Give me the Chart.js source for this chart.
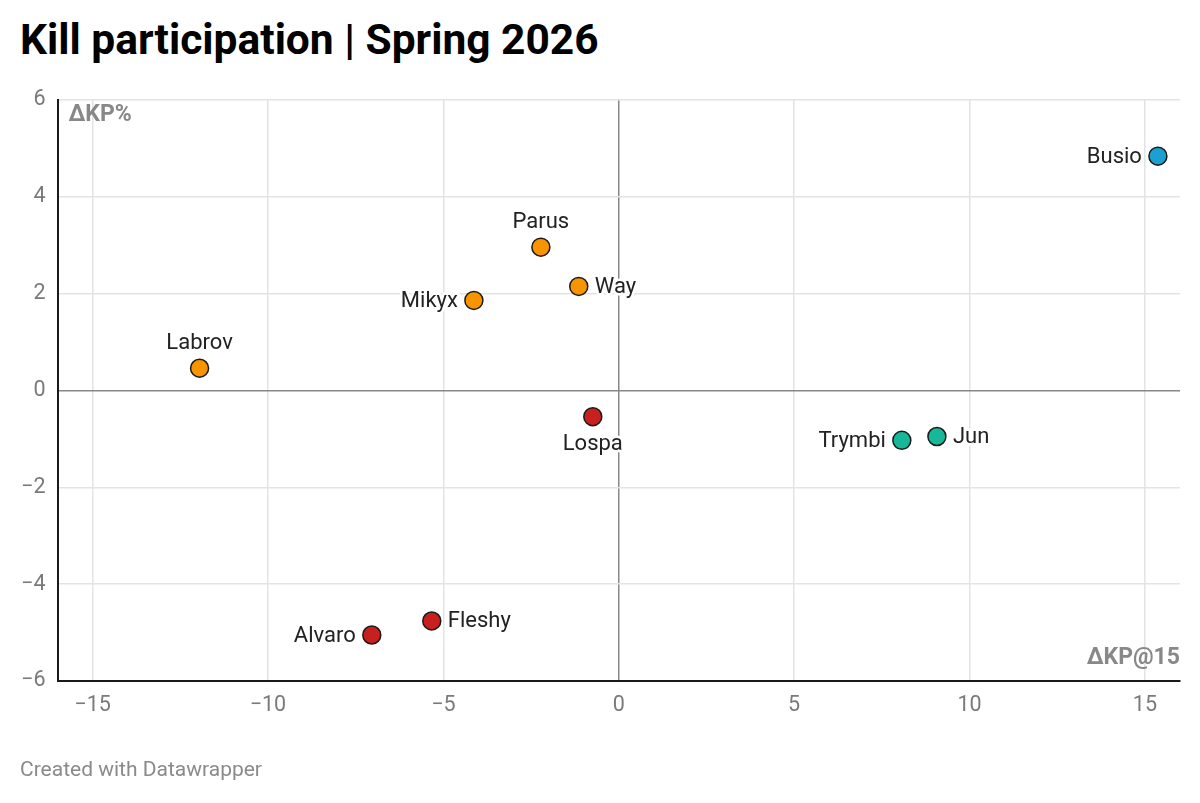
<!DOCTYPE html>
<html>
<head>
<meta charset="utf-8">
<script src="https://cdn.jsdelivr.net/npm/chart.js@4/dist/chart.umd.min.js"></script>
<style>
  html, body { margin: 0; padding: 0; background: #fff; }
  body { width: 1200px; height: 803px; position: relative; overflow: hidden; font-family: Roboto, "Noto Sans", sans-serif; }
  #title { position: absolute; left: 20px; top: 15px; font-size: 42.5px; font-weight: 700; color: #000; white-space: nowrap; }
  #footer { position: absolute; left: 20px; top: 757px; font-size: 21px; color: #8a8a8a; white-space: nowrap; }
  #wrap { position: absolute; left: 0; top: 0; width: 1200px; height: 803px; }
</style>
</head>
<body>
<div id="title">Kill participation | Spring 2026</div>
<div id="wrap"><canvas id="c"></canvas></div>
<div id="footer">Created with Datawrapper</div>
<script>
// ---- data ----
const players   = ["Busio", "Parus", "Way", "Mikyx", "Labrov", "Lospa", "Trymbi", "Jun", "Alvaro", "Fleshy"];
const deltaKP15 = [15.37, -2.22, -1.14, -4.13, -11.95, -0.74, 8.07, 9.07, -7.04, -5.33];
const deltaKP   = [4.84, 2.96, 2.15, 1.86, 0.46, -0.54, -1.03, -0.95, -5.05, -4.76];
const groups    = ["blue", "orange", "orange", "orange", "orange", "red", "teal", "teal", "red", "red"];
const labelSide = ["left", "top", "right", "left", "top", "bottom", "left", "right", "left", "right"];
const xTicks = [-15, -10, -5, 0, 5, 10, 15];
const yTicks = [-6, -4, -2, 0, 2, 4, 6];
const xAxisTitle = "ΔKP@15";
const yAxisTitle = "ΔKP%";

const groupColors = { orange: "#f79400", red: "#c81f1f", teal: "#17b899", blue: "#1ba0d2" };
const groupOrder = ["orange", "red", "teal", "blue"];

const datasets = groupOrder.map(g => {
  const idx = players.map((p, i) => i).filter(i => groups[i] === g);
  return {
    label: g,
    data: idx.map(i => ({ x: deltaKP15[i], y: deltaKP[i], name: players[i], side: labelSide[i] })),
    backgroundColor: groupColors[g],
    borderColor: "#1a1a1a",
    borderWidth: 1.5,
    pointRadius: 9,
    pointHoverRadius: 9
  };
});

const minus = v => String(v).replace("-", "\u2212");

const labelPlugin = {
  id: "labels",
  afterDatasetsDraw(chart) {
    const ctx = chart.ctx;
    const area = chart.chartArea;
    ctx.save();
    ctx.font = "22px Roboto, 'Noto Sans', sans-serif";
    ctx.lineJoin = "round";
    chart.data.datasets.forEach((ds, di) => {
      const meta = chart.getDatasetMeta(di);
      meta.data.forEach((pt, i) => {
        const d = ds.data[i];
        let x = pt.x, y = pt.y;
        const off = 16;
        if (d.side === "left") { ctx.textAlign = "right"; ctx.textBaseline = "middle"; x -= off; y += 1; }
        else if (d.side === "right") { ctx.textAlign = "left"; ctx.textBaseline = "middle"; x += off; y += 1; }
        else if (d.side === "top") { ctx.textAlign = "center"; ctx.textBaseline = "bottom"; y -= 14; }
        else { ctx.textAlign = "center"; ctx.textBaseline = "top"; y += 17; }
        ctx.strokeStyle = "#ffffff";
        ctx.lineWidth = 5;
        ctx.strokeText(d.name, x, y);
        ctx.fillStyle = "#222222";
        ctx.fillText(d.name, x, y);
      });
    });
    // axis titles
    ctx.font = "bold 23px Roboto, 'Noto Sans', sans-serif";
    ctx.fillStyle = "#888888";
    ctx.textBaseline = "middle";
    ctx.textAlign = "left";
    ctx.fillText(yAxisTitle, area.left + 11, area.top + 15);
    ctx.textAlign = "right";
    ctx.fillText(xAxisTitle, area.right, area.bottom - 23);
    ctx.restore();
  }
};

new Chart(document.getElementById("c"), {
  type: "scatter",
  data: { datasets },
  plugins: [labelPlugin],
  options: {
    responsive: true,
    maintainAspectRatio: false,
    animation: false,
    layout: { padding: { top: 100, right: 20, bottom: 0, left: 0 } },
    plugins: { legend: { display: false }, tooltip: { enabled: false }, title: { display: false } },
    scales: {
      x: {
        type: "linear",
        min: -16, max: 16,
        afterBuildTicks: s => { s.ticks = xTicks.map(v => ({ value: v })); },
        afterFit: s => { s.height = 122; },
        grid: {
          color: c => (c.tick && c.tick.value === 0 ? "#888888" : "#e3e3e3"),
          lineWidth: 1.5,
          drawTicks: false
        },
        border: { display: true, color: "#1a1a1a", width: 2 },
        ticks: {
          padding: 12,
          color: "#7a7a7a",
          font: { size: 21.5, family: "Roboto, 'Noto Sans', sans-serif" },
          callback: v => minus(v),
          maxRotation: 0
        }
      },
      y: {
        type: "linear",
        min: -6, max: 6,
        afterBuildTicks: s => { s.ticks = yTicks.map(v => ({ value: v })); },
        afterFit: s => { s.width = 57.5; },
        grid: {
          color: c => (c.tick && c.tick.value === 0 ? "#888888" : "#e3e3e3"),
          lineWidth: 1.5,
          drawTicks: false
        },
        border: { display: true, color: "#1a1a1a", width: 2 },
        ticks: {
          padding: 12,
          color: "#7a7a7a",
          font: { size: 21.5, family: "Roboto, 'Noto Sans', sans-serif" },
          callback: v => minus(v)
        }
      }
    }
  }
});
</script>
</body>
</html>
